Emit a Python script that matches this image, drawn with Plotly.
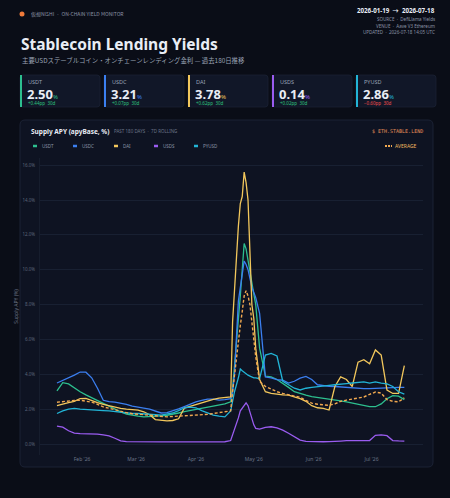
import plotly.graph_objects as go

# ---------------- data ----------------
dates = [
    "2026-01-19", "2026-01-22", "2026-01-25", "2026-01-28", "2026-01-31",
    "2026-02-03", "2026-02-06", "2026-02-09", "2026-02-12", "2026-02-15",
    "2026-02-18", "2026-02-21", "2026-02-24", "2026-02-27",
    "2026-03-02", "2026-03-05", "2026-03-08", "2026-03-11", "2026-03-14",
    "2026-03-17", "2026-03-20", "2026-03-23", "2026-03-26", "2026-03-29",
    "2026-04-01", "2026-04-04", "2026-04-07", "2026-04-10", "2026-04-13", "2026-04-16",
    "2026-04-19", "2026-04-20", "2026-04-21", "2026-04-23", "2026-04-24", "2026-04-25",
    "2026-04-26", "2026-04-27", "2026-04-28", "2026-04-29", "2026-04-30",
    "2026-05-01", "2026-05-02", "2026-05-04", "2026-05-07", "2026-05-10", "2026-05-13",
    "2026-05-16", "2026-05-19", "2026-05-22", "2026-05-25", "2026-05-28", "2026-05-31",
    "2026-06-03", "2026-06-06", "2026-06-09", "2026-06-12", "2026-06-15", "2026-06-18",
    "2026-06-21", "2026-06-24", "2026-06-27", "2026-06-30",
    "2026-07-03", "2026-07-06", "2026-07-09", "2026-07-12", "2026-07-15", "2026-07-18",
]

usdt = [3.05, 3.52, 3.45, 3.20, 3.00, 2.82, 2.65, 2.50, 2.32, 2.16, 2.00, 1.84, 1.72, 1.64,
        1.60, 1.56, 1.57, 1.60, 1.62, 1.65, 1.70, 1.78, 1.86, 1.92, 1.98, 2.04, 2.10, 2.17, 2.24, 2.30,
        2.42, 3.20, 4.50, 7.00, 8.50, 10.0, 11.5, 11.2, 10.5, 9.8, 9.2,
        8.6, 8.0, 5.5, 3.90, 3.85, 3.70, 3.50, 3.25, 3.00, 2.88, 2.80, 2.72,
        2.68, 2.64, 2.60, 2.55, 2.48, 2.42, 2.35, 2.25, 2.17, 2.14,
        2.14, 2.30, 2.60, 2.78, 2.75, 2.55]

usdc = [3.50, 3.65, 3.77, 3.95, 4.13, 4.12, 3.80, 3.20, 2.51, 2.43, 2.40, 2.35, 2.28, 2.18,
        2.10, 2.06, 2.00, 1.87, 1.78, 1.80, 1.90, 2.02, 2.15, 2.28, 2.42, 2.50, 2.58, 2.58, 2.52, 2.55,
        2.60, 3.00, 4.00, 8.20, 9.00, 9.80, 10.5, 10.3, 10.0, 9.5, 9.0,
        8.7, 8.4, 7.5, 3.85, 3.80, 3.70, 3.66, 3.50, 3.60, 3.78, 3.88, 3.70,
        3.40, 3.35, 3.31, 3.30, 3.27, 3.24, 3.22, 3.20, 3.18, 3.18,
        3.20, 3.22, 3.22, 3.23, 3.25, 3.25]

dai = [2.20, 2.30, 2.37, 2.45, 2.61, 2.62, 2.48, 2.37, 2.27, 2.18, 2.10, 2.04, 2.00, 1.97,
       1.95, 1.85, 1.68, 1.40, 1.35, 1.33, 1.35, 1.45, 2.06, 2.16, 2.28, 2.40, 2.48, 2.56, 2.63, 2.66,
       2.70, 7.00, 9.00, 12.5, 13.8, 14.2, 15.6, 15.0, 14.0, 11.0, 8.0,
       7.2, 5.5, 3.70, 3.00, 2.90, 2.85, 2.82, 2.80, 2.72, 2.60, 2.45, 2.20,
       2.08, 2.04, 1.95, 3.30, 3.85, 3.70, 3.30, 4.70, 4.84, 4.60,
       5.40, 5.10, 3.10, 2.90, 2.90, 4.50]

usds = [1.03, 0.97, 0.76, 0.63, 0.60, 0.60, 0.58, 0.57, 0.52, 0.47, 0.33, 0.18, 0.14, 0.13,
        0.13, 0.13, 0.12, 0.12, 0.12, 0.12, 0.12, 0.11, 0.11, 0.12, 0.12, 0.12, 0.12, 0.13, 0.13, 0.13,
        0.20, 0.50, 0.85, 1.50, 1.90, 2.05, 2.20, 2.36, 2.20, 1.80, 1.40,
        1.10, 0.90, 0.85, 0.95, 0.99, 0.92, 0.80, 0.62, 0.40, 0.22, 0.15, 0.13,
        0.13, 0.13, 0.14, 0.14, 0.17, 0.19, 0.19, 0.19, 0.19, 0.20,
        0.50, 0.52, 0.48, 0.20, 0.18, 0.17]

pyusd = [1.75, 1.90, 2.00, 2.04, 2.00, 1.97, 1.95, 1.94, 1.92, 1.90, 1.86, 1.83, 1.78, 1.75,
         1.75, 1.74, 1.72, 1.68, 1.66, 1.70, 1.78, 1.92, 2.08, 2.12, 2.08, 1.92, 1.78, 1.66, 1.60, 1.56,
         1.90, 2.40, 3.00, 3.80, 4.30, 4.20, 4.10, 4.00, 3.95, 3.90, 3.85,
         3.80, 3.80, 3.75, 5.10, 5.20, 5.05, 3.60, 3.40, 3.20, 3.10, 3.20, 3.25,
         3.30, 3.33, 3.37, 3.40, 3.45, 3.47, 3.50, 3.53, 3.56, 3.50,
         3.56, 3.50, 3.45, 3.30, 3.00, 2.86]

average = [2.40, 2.44, 2.47, 2.50, 2.51, 2.46, 2.40, 2.28, 2.13, 2.05, 1.96, 1.88, 1.80, 1.74,
           1.71, 1.68, 1.65, 1.62, 1.58, 1.56, 1.58, 1.60, 1.62, 1.63, 1.64, 1.68, 1.70, 1.75, 1.79, 1.83,
           1.90, 3.00, 4.00, 5.80, 6.80, 7.60, 8.50, 8.80, 8.50, 8.00, 7.00,
           6.00, 5.00, 3.60, 3.30, 3.15, 3.00, 2.90, 2.82, 2.75, 2.68, 2.50, 2.35,
           2.28, 2.24, 2.22, 2.30, 2.45, 2.52, 2.58, 2.62, 2.70, 2.85,
           2.98, 2.92, 2.55, 2.45, 2.42, 2.65]

series_names = ["USDT", "USDC", "DAI", "USDS", "PYUSD"]
series_values = [usdt, usdc, dai, usds, pyusd]
series_colors = ["#2dbf8f", "#3b7ff0", "#f2c75c", "#9a5cf0", "#22b4d6"]

kpi_values = ["2.50", "3.21", "3.78", "0.14", "2.86"]
kpi_deltas = ["+0.44pp  30d", "+0.07pp  30d", "+0.62pp  30d", "+0.02pp  30d", "\u22120.60pp  30d"]
kpi_positive = [True, True, True, True, False]

y_ticks = [0, 2, 4, 6, 8, 10, 12, 14, 16]

# ---------------- styling ----------------
W, H = 450, 498
ML, MR, MT, MB = 40, 27, 158, 43
PW, PH = W - ML - MR, H - MT - MB

BG = "#0a0d17"
CARD = "#0e1322"
CARD_BORDER = "#1b2234"
GRID = "#182032"
MUTED = "#6b7488"
TEXT = "#e9edf5"
SANS = "Noto Sans, Noto Sans CJK JP, sans-serif"
MONO = "DejaVu Sans Mono, monospace"
CJK = "Noto Sans CJK JP, Noto Sans, sans-serif"


def px(x):
    return (x - ML) / PW


def py(y):
    return (H - MB - y) / PH


def rounded_rect(x0, y0, x1, y1, r):
    X0, X1 = px(x0), px(x1)
    Y0, Y1 = py(y0), py(y1)
    rx, ry = r / PW, r / PH
    return (f"M{X0+rx},{Y0} L{X1-rx},{Y0} Q{X1},{Y0} {X1},{Y0-ry} "
            f"L{X1},{Y1+ry} Q{X1},{Y1} {X1-rx},{Y1} L{X0+rx},{Y1} Q{X0},{Y1} {X0},{Y1+ry} "
            f"L{X0},{Y0-ry} Q{X0},{Y0} {X0+rx},{Y0} Z")


fig = go.Figure()

for name, vals, col in zip(series_names, series_values, series_colors):
    fig.add_trace(go.Scatter(x=dates, y=vals, name=name, mode="lines",
                             line=dict(color=col, width=1.3), showlegend=False))

fig.add_trace(go.Scatter(x=dates, y=average, name="AVERAGE", mode="lines",
                         line=dict(color="#f0a850", width=1.4, dash="3px,2px"), showlegend=False))

shapes = []
ann = []

# chart card
shapes.append(dict(type="path", xref="paper", yref="paper", path=rounded_rect(20, 120, 433, 467, 5),
                   fillcolor=CARD, line=dict(color=CARD_BORDER, width=1), layer="below"))

# KPI cards
card_x = [20, 104, 188, 272, 356]
for i, (name, val, dl, pos, col) in enumerate(zip(series_names, kpi_values, kpi_deltas, kpi_positive, series_colors)):
    x0 = card_x[i]
    shapes.append(dict(type="path", xref="paper", yref="paper", path=rounded_rect(x0, 75, x0 + 80, 107, 3),
                       fillcolor="#111728", line=dict(color=CARD_BORDER, width=0.8), layer="below"))
    shapes.append(dict(type="rect", xref="paper", yref="paper", x0=px(x0), x1=px(x0 + 2),
                       y0=py(107), y1=py(75), fillcolor=col, line=dict(width=0)))
    ann.append(dict(x=px(x0 + 6), y=py(82), text=name, font=dict(size=5.5, color="#9aa3b5", family=SANS),
                    xanchor="left", yanchor="middle"))
    ann.append(dict(x=px(x0 + 5), y=py(93.5),
                    text=f"<b>{val}</b><span style='font-size:6px;color:{col}'>%</span>",
                    font=dict(size=13, color=TEXT, family=SANS), xanchor="left", yanchor="middle"))
    ann.append(dict(x=px(x0 + 6), y=py(103), text=dl,
                    font=dict(size=4.5, color="#2ec27e" if pos else "#ef4f4f", family=SANS),
                    xanchor="left", yanchor="middle"))

# header
shapes.append(dict(type="circle", xref="paper", yref="paper", x0=px(19.5), x1=px(24.5), y0=py(16.5), y1=py(11.5),
                   fillcolor="#f07a3a", line=dict(width=0)))
ann.append(dict(x=px(29), y=py(14), text="仮想NISHI  ·  ON-CHAIN YIELD MONITOR",
                font=dict(size=5, color="#8a93a6", family=CJK), xanchor="left", yanchor="middle"))
ann.append(dict(x=px(19), y=py(44), text="<b>Stablecoin Lending Yields</b>",
                font=dict(size=15.5, color=TEXT, family=SANS), xanchor="left", yanchor="middle"))
ann.append(dict(x=px(20), y=py(60.5), text="主要USDステーブルコイン・オンチェーンレンディング金利 — 過去180日推移",
                font=dict(size=6.4, color="#9aa3b5", family=CJK), xanchor="left", yanchor="middle"))

ann.append(dict(x=px(437), y=py(11), text="<b>2026-01-19  →  2026-07-18</b>",
                font=dict(size=6.2, color=TEXT, family=SANS), xanchor="right", yanchor="middle"))
for yy, t in [(19, "SOURCE  ·  DefiLlama Yields"), (25.5, "VENUE  ·  Aave V3 Ethereum"),
              (32, "UPDATED  ·  2026-07-18 14:05 UTC")]:
    ann.append(dict(x=px(437), y=py(yy), text=t, font=dict(size=4.5, color="#8a93a6", family=SANS),
                    xanchor="right", yanchor="middle"))

# chart header
ann.append(dict(x=px(29), y=py(131), text="<b>Supply APY (apyBase, %)</b>",
                font=dict(size=6.5, color=TEXT, family=SANS), xanchor="left", yanchor="middle"))
ann.append(dict(x=px(112), y=py(131), text="PAST 180 DAYS  ·  7D ROLLING",
                font=dict(size=4.5, color=MUTED, family=SANS), xanchor="left", yanchor="middle"))
ann.append(dict(x=px(425), y=py(130.5), text="$ ETH.STABLE.LEND",
                font=dict(size=5, color="#e8925a", family=MONO), xanchor="right", yanchor="middle"))

# legend row
leg_x = [33, 73, 114, 154, 194]
for name, col, lx in zip(series_names, series_colors, leg_x):
    shapes.append(dict(type="line", xref="paper", yref="paper", x0=px(lx), x1=px(lx + 4),
                       y0=py(146), y1=py(146), line=dict(color=col, width=2.5)))
    ann.append(dict(x=px(lx + 7), y=py(146), text=name, font=dict(size=4.5, color="#8a93a6", family=SANS),
                    xanchor="left", yanchor="middle"))
shapes.append(dict(type="line", xref="paper", yref="paper", x0=px(385), x1=px(392),
                   y0=py(146), y1=py(146), line=dict(color="#f0a850", width=2, dash="2px,1px")))
ann.append(dict(x=px(393), y=py(146), text="AVERAGE", font=dict(size=5, color="#f0b860", family=SANS),
                xanchor="left", yanchor="middle"))

for a in ann:
    a.update(xref="paper", yref="paper", showarrow=False)

fig.update_layout(
    width=W, height=H,
    margin=dict(l=ML, r=MR, t=MT, b=MB, pad=0, autoexpand=False),
    paper_bgcolor=BG, plot_bgcolor=CARD,
    shapes=shapes, annotations=ann,
    showlegend=False,
    font=dict(family=SANS, color=MUTED),
    xaxis=dict(
        type="date", automargin=False,
        range=["2026-01-10 05:00", "2026-07-27 16:00"],
        tick0="2026-02-01", dtick="M1", tickformat="%b '%y",
        tickfont=dict(size=5, color=MUTED, family=SANS),
        showgrid=False, zeroline=False, showline=False, ticks="",
    ),
    yaxis=dict(
        automargin=False,
        range=[-0.63, 16.41],
        tickvals=y_ticks, ticktext=[f"{v:.1f}%" for v in y_ticks],
        tickfont=dict(size=4.5, color="#5c6579", family=SANS),
        gridcolor=GRID, gridwidth=1, zeroline=False,
        showline=True, linecolor="#161d2d", linewidth=1,
        ticks="", ticklabelstandoff=3,
        title=dict(text="Supply APY (%)", font=dict(size=5, color=MUTED, family=SANS), standoff=3),
    ),
)

fig.write_html(
    "out.html",
    config={"displayModeBar": False},
    post_script="document.body.style.margin='0';document.body.style.background='#0a0d17';",
)
